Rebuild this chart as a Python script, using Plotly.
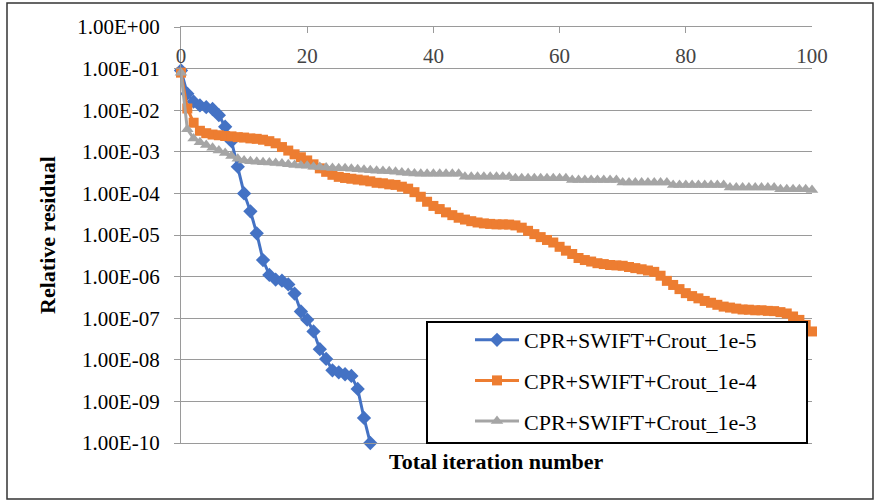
import plotly.graph_objects as go

# ---------------- data ----------------
iter_blue = list(range(0, 31))
res_1e5 = [9.0e-2, 2.5e-2, 1.6e-2, 1.3e-2, 1.18e-2, 1.07e-2, 7.6e-3, 4.0e-3, 1.8e-3, 4.4e-4,
           1.0e-4, 3.7e-5, 1.1e-5, 2.5e-6, 1.1e-6, 8.5e-7, 8.0e-7, 6.5e-7, 3.9e-7, 1.45e-7,
           9.2e-8, 4.8e-8, 1.8e-8, 1.05e-8, 5.6e-9, 5.0e-9, 4.5e-9, 4.1e-9, 2.0e-9, 4.0e-10,
           1.0e-10]

iter_100 = list(range(0, 101))
res_1e4 = [8.0e-2, 1.1e-2, 5.0e-3, 3.2e-3, 2.8e-3, 2.6e-3, 2.5e-3, 2.4e-3, 2.35e-3, 2.25e-3,
           2.2e-3, 2.1e-3, 2.05e-3, 1.95e-3, 1.8e-3, 1.6e-3, 1.3e-3, 1.07e-3, 8.7e-4, 7.4e-4,
           6.2e-4, 5.0e-4, 4.0e-4, 3.3e-4, 2.8e-4, 2.5e-4, 2.35e-4, 2.25e-4, 2.15e-4, 2.05e-4,
           1.95e-4, 1.8e-4, 1.75e-4, 1.65e-4, 1.6e-4, 1.45e-4, 1.3e-4, 1.07e-4, 8.3e-5, 6.3e-5,
           5.0e-5, 4.2e-5, 3.5e-5, 3.0e-5, 2.6e-5, 2.35e-5, 2.15e-5, 2.0e-5, 1.9e-5, 1.85e-5,
           1.8e-5, 1.8e-5, 1.78e-5, 1.7e-5, 1.5e-5, 1.26e-5, 1.05e-5, 8.9e-6, 7.6e-6, 6.6e-6,
           5.2e-6, 4.2e-6, 3.5e-6, 2.8e-6, 2.5e-6, 2.3e-6, 2.1e-6, 2.0e-6, 1.9e-6, 1.86e-6,
           1.82e-6, 1.7e-6, 1.6e-6, 1.5e-6, 1.4e-6, 1.3e-6, 1.05e-6, 7.9e-7, 6.3e-7, 5.0e-7,
           4.0e-7, 3.4e-7, 3.0e-7, 2.6e-7, 2.35e-7, 2.1e-7, 1.9e-7, 1.8e-7, 1.7e-7, 1.62e-7,
           1.6e-7, 1.55e-7, 1.55e-7, 1.5e-7, 1.48e-7, 1.4e-7, 1.3e-7, 1.1e-7, 9.1e-8, 6.9e-8,
           4.8e-8]
res_1e3 = [8.0e-2, 3.5e-3, 2.1e-3, 1.7e-3, 1.45e-3, 1.25e-3, 1.07e-3, 9.3e-4, 7.9e-4, 6.8e-4,
           6.2e-4, 5.9e-4, 5.75e-4, 5.6e-4, 5.5e-4, 5.4e-4, 5.2e-4, 5.0e-4, 4.8e-4, 4.7e-4,
           4.6e-4, 4.4e-4, 4.3e-4, 4.2e-4, 4.1e-4, 4.0e-4, 4.0e-4, 3.9e-4, 3.8e-4, 3.7e-4,
           3.6e-4, 3.5e-4, 3.45e-4, 3.4e-4, 3.3e-4, 3.2e-4, 3.1e-4, 3.0e-4, 2.95e-4, 2.95e-4,
           2.95e-4, 2.95e-4, 2.95e-4, 2.95e-4, 2.95e-4, 2.5e-4, 2.5e-4, 2.5e-4, 2.5e-4, 2.5e-4,
           2.5e-4, 2.5e-4, 2.5e-4, 2.3e-4, 2.3e-4, 2.3e-4, 2.3e-4, 2.3e-4, 2.3e-4, 2.3e-4,
           2.3e-4, 2.3e-4, 2.1e-4, 2.1e-4, 2.1e-4, 2.1e-4, 2.1e-4, 2.1e-4, 2.1e-4, 2.1e-4,
           1.83e-4, 1.83e-4, 1.83e-4, 1.83e-4, 1.83e-4, 1.83e-4, 1.83e-4, 1.83e-4, 1.6e-4, 1.6e-4,
           1.6e-4, 1.6e-4, 1.6e-4, 1.6e-4, 1.6e-4, 1.6e-4, 1.6e-4, 1.38e-4, 1.38e-4, 1.38e-4,
           1.38e-4, 1.38e-4, 1.38e-4, 1.38e-4, 1.38e-4, 1.26e-4, 1.26e-4, 1.26e-4, 1.26e-4, 1.26e-4,
           1.2e-4]

series_names = ["CPR+SWIFT+Crout_1e-5", "CPR+SWIFT+Crout_1e-4", "CPR+SWIFT+Crout_1e-3"]
y_tickvals = [1e0, 1e-1, 1e-2, 1e-3, 1e-4, 1e-5, 1e-6, 1e-7, 1e-8, 1e-9, 1e-10]
y_ticktext = ["1.00E+00", "1.00E-01", "1.00E-02", "1.00E-03", "1.00E-04", "1.00E-05",
              "1.00E-06", "1.00E-07", "1.00E-08", "1.00E-09", "1.00E-10"]
x_tickvals = [0, 20, 40, 60, 80, 100]

# ---------------- figure ----------------
FONT = "Liberation Serif"
GRID = "#9a9a9a"

fig = go.Figure()
fig.add_trace(go.Scatter(x=iter_blue, y=res_1e5, name=series_names[0], mode="lines+markers",
                         line=dict(color="#4472C4", width=3),
                         marker=dict(symbol="diamond", size=11, color="#4472C4"),
                         legendgroup="a", cliponaxis=False))
fig.add_trace(go.Scatter(x=iter_100, y=res_1e4, name=series_names[1], mode="lines+markers",
                         line=dict(color="#ED7D31", width=3),
                         marker=dict(symbol="square", size=10, color="#ED7D31"),
                         legendgroup="b", cliponaxis=False))
fig.add_trace(go.Scatter(x=iter_100, y=res_1e3, name=series_names[2], mode="lines+markers",
                         line=dict(color="#A5A5A5", width=3),
                         marker=dict(symbol="triangle-up", size=11, color="#A5A5A5"),
                         legendgroup="c", cliponaxis=False))

L, T, W, H = 181, 27, 631, 416
def px(x):
    return (x - L) / W
def py(y):
    return (T + H - y) / H

fig.update_layout(
    width=878, height=501,
    margin=dict(l=L, r=878 - L - W, t=T, b=501 - T - H, autoexpand=False),
    paper_bgcolor="white", plot_bgcolor="white",
    font=dict(family=FONT, size=21, color="black"),
    showlegend=True,
    legend=dict(x=px(470), y=py(319), xanchor="left", yanchor="top",
                bgcolor="rgba(0,0,0,0)", borderwidth=0,
                itemwidth=44, tracegroupgap=9,
                font=dict(family=FONT, size=22, color="black")),
    xaxis=dict(range=[0, 100], side="top", tickvals=x_tickvals,
               ticks="inside", ticklen=6, tickcolor=GRID, tickwidth=1.3,
               ticklabelposition="inside", ticklabeloverflow="allow",
               ticklabelstandoff=16,
               tickfont=dict(family=FONT, size=21),
               showgrid=False, zeroline=False,
               showline=True, linecolor=GRID, linewidth=1.3, mirror=True),
    yaxis=dict(type="log", range=[-10, 0], tickvals=y_tickvals, ticktext=y_ticktext,
               ticks="outside", ticklen=6, tickcolor=GRID, tickwidth=1.3,
               ticklabelstandoff=10,
               tickfont=dict(family=FONT, size=21),
               showgrid=True, gridcolor=GRID, gridwidth=1.3, zeroline=False,
               showline=True, linecolor=GRID, linewidth=1.3,
               title=dict(text="<b>Relative residual</b>", standoff=15,
                          font=dict(family=FONT, size=22))),
    annotations=[dict(text="<b>Total iteration number</b>", xref="paper", yref="paper",
                      x=0.5, y=0, xanchor="center", yanchor="top", yshift=-4,
                      showarrow=False, font=dict(family=FONT, size=22))],
    shapes=[
        dict(type="rect", xref="paper", yref="paper", x0=px(7), x1=px(873), y0=py(499), y1=py(3),
             line=dict(color="#333333", width=1.5), layer="below"),
        dict(type="rect", xref="paper", yref="paper", x0=px(427), x1=px(807), y0=py(443), y1=py(322),
             line=dict(color="black", width=2), fillcolor="white", layer="above"),
    ],
)

fig.write_html("out.html")
